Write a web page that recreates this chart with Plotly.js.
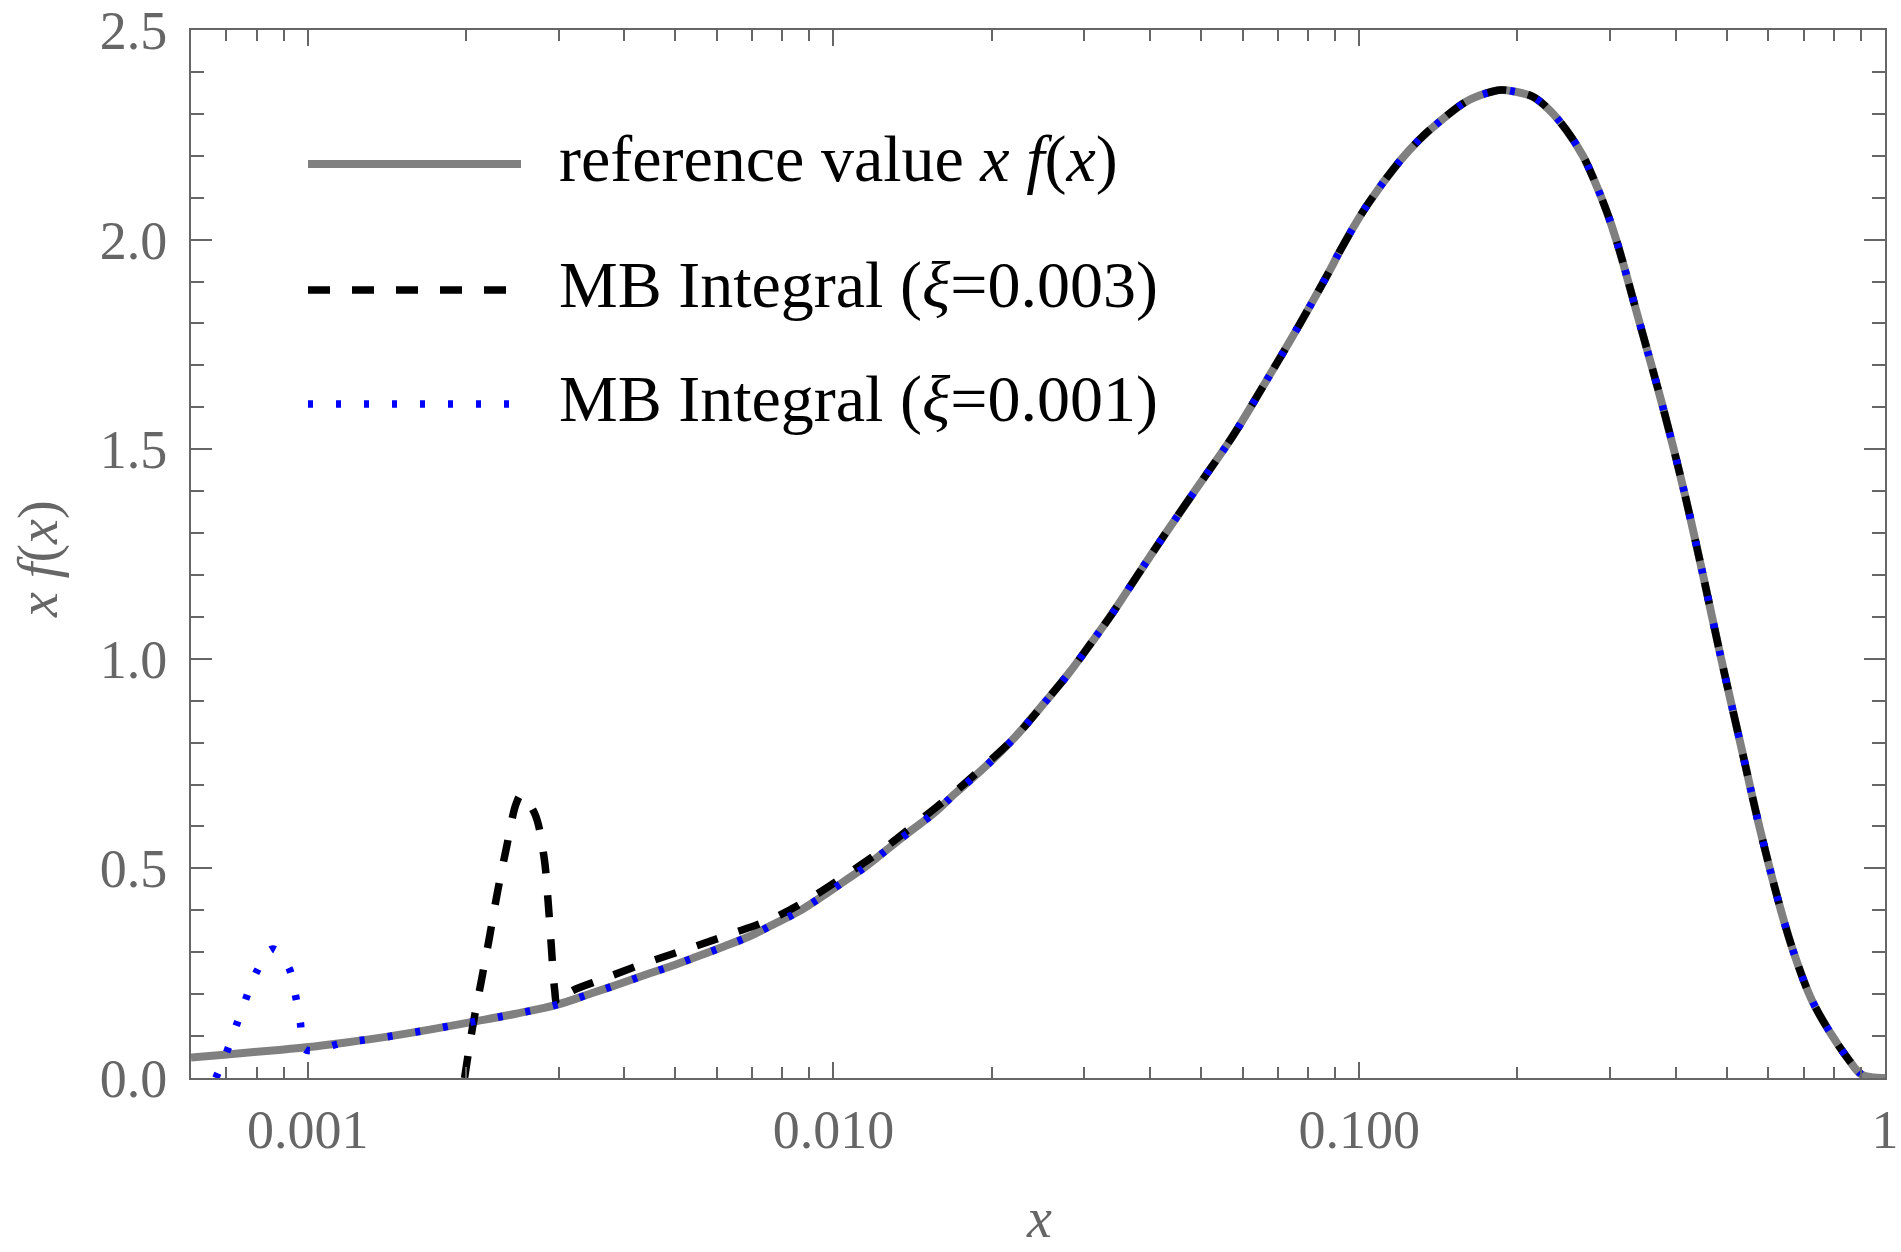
<!DOCTYPE html>
<html>
<head>
<meta charset="utf-8">
<script src="https://cdn.plot.ly/plotly-3.0.1.min.js"></script>
<style>
html,body{margin:0;padding:0;background:#fff;}
#chart{width:1901px;height:1252px;}
</style>
</head>
<body>
<div id="chart"></div>
<script>
// ---- Data ----
// reference value x f(x)
const refX = [0.0006, 0.000694, 0.000791, 0.000893, 0.000993, 0.001175, 0.00142, 0.001717, 0.00206, 0.002475,
  0.002985, 0.003467, 0.0039, 0.004378, 0.00492, 0.00549, 0.00617, 0.00689, 0.00769, 0.00858,
  0.0095, 0.01052, 0.01157, 0.01273, 0.0141, 0.0155, 0.01705, 0.01945, 0.02218, 0.0253,
  0.02803, 0.03105, 0.0339, 0.0370, 0.0398, 0.04281, 0.04956, 0.0574, 0.06642, 0.07687,
  0.089, 0.091, 0.103, 0.1192, 0.130, 0.142, 0.1596, 0.1743, 0.186, 0.1959,
  0.2138, 0.2301, 0.2475, 0.2663, 0.278, 0.295, 0.309, 0.342, 0.380, 0.4153,
  0.4512, 0.4888, 0.5314, 0.578, 0.6357, 0.6739, 0.7248, 0.785, 0.8515, 0.9,
  0.95, 1.0];
const refY = [0.049, 0.0557, 0.062, 0.0676, 0.0732, 0.0843, 0.0986, 0.116, 0.134, 0.1527,
  0.175, 0.202, 0.2235, 0.2457, 0.267, 0.289, 0.313, 0.337, 0.3665, 0.397,
  0.4325, 0.4707, 0.5065, 0.548, 0.5916, 0.631, 0.679, 0.7427, 0.814, 0.8977,
  0.9654, 1.041, 1.108, 1.180, 1.240, 1.299, 1.4146, 1.530, 1.661, 1.796,
  1.939, 1.963, 2.078, 2.186, 2.238, 2.281, 2.329, 2.349, 2.357, 2.354,
  2.341, 2.309, 2.262, 2.200, 2.150, 2.070, 1.995, 1.798, 1.590, 1.397,
  1.197, 0.996, 0.7956, 0.595, 0.3946, 0.291, 0.1876, 0.11, 0.045, 0.009,
  0.001, 0.0];

// MB Integral (xi = 0.003): low-x part where it departs from the reference
const mb3LowX = [0.001988, 0.00206, 0.002138, 0.002218, 0.002294, 0.002387, 0.002493, 0.002548, 0.002703, 0.002815,
  0.002865, 0.002906, 0.00295, 0.002985, 0.003128, 0.003673, 0.004409, 0.005293, 0.006355, 0.007628,
  0.009028, 0.01068, 0.01254, 0.01463, 0.01705, 0.01945];
const mb3LowY = [0.0, 0.1224, 0.2297, 0.337, 0.4405, 0.548, 0.655, 0.675, 0.631, 0.528,
  0.4246, 0.317, 0.21, 0.174, 0.202, 0.2378, 0.275, 0.3085, 0.3428, 0.3793,
  0.4287, 0.4883, 0.5494, 0.6155, 0.683, 0.7467];

// MB Integral (xi = 0.001): low-x part where it departs from the reference
const mb1LowX = [0.000669, 0.000704, 0.000733, 0.000764, 0.0007993, 0.0008579, 0.0009201, 0.0009474, 0.0009683, 0.0009883];
const mb1LowY = [0.0, 0.0668, 0.128, 0.1908, 0.2529, 0.3077, 0.264, 0.1988, 0.1336, 0.0684];

// Both MB curves lie on the reference curve above these x and end at mbEndX
const mb3JoinX = 0.0215;
const mb1JoinX = 0.001;
const mbEndX = 0.9;

const xTickVals = [0.001, 0.01, 0.1, 1];
const xTickText = ['0.001', '0.010', '0.100', '1'];
const xMinorVals = [0.0006, 0.0007, 0.0008, 0.0009,
  0.002, 0.003, 0.004, 0.005, 0.006, 0.007, 0.008, 0.009,
  0.02, 0.03, 0.04, 0.05, 0.06, 0.07, 0.08, 0.09,
  0.2, 0.3, 0.4, 0.5, 0.6, 0.7, 0.8, 0.9];
const yTickVals = [0, 0.5, 1.0, 1.5, 2.0, 2.5];
const yTickText = ['0.0', '0.5', '1.0', '1.5', '2.0', '2.5'];

const legendLabels = [
  'reference value <i>x f</i>(<i>x</i>)',
  'MB Integral (<i>ξ</i>=0.003)',
  'MB Integral (<i>ξ</i>=0.001)'
];

// ---- build series ----
function joinSeries(lowX, lowY, fromX) {
  const xs = lowX.slice(), ys = lowY.slice();
  for (let i = 0; i < refX.length; i++) {
    if (refX[i] >= fromX && refX[i] <= mbEndX) { xs.push(refX[i]); ys.push(refY[i]); }
  }
  return [xs, ys];
}
const [mb3X, mb3Y] = joinSeries(mb3LowX, mb3LowY, mb3JoinX);
const [mb1X, mb1Y] = joinSeries(mb1LowX, mb1LowY, mb1JoinX);

const FONT = '"Liberation Serif", "Times New Roman", Times, serif';
const AX = '#666666';
const DASH = '22px,22px';
const DOT = '5px,23px';

const traces = [
  {x: refX, y: refY, type: 'scatter', mode: 'lines', name: legendLabels[0],
   line: {color: '#808080', width: 8, shape: 'spline', smoothing: 1.0}},
  {x: mb3X, y: mb3Y, type: 'scatter', mode: 'lines', name: legendLabels[1],
   line: {color: '#000000', width: 7.5, dash: DASH, shape: 'spline', smoothing: 1.0}},
  {x: mb1X, y: mb1Y, type: 'scatter', mode: 'lines', name: legendLabels[2],
   line: {color: '#0000ff', width: 7.5, dash: DOT, shape: 'spline', smoothing: 1.0}}
];

// legend drawn in paper coordinates
const L = 191, R = 1885, T = 30, B = 1078;
const px = v => (v - L) / (R - L);
const py = v => (B - v) / (B - T);
const legY = [164, 290, 404];
const legStyles = [
  {color: '#808080', width: 8, dash: 'solid'},
  {color: '#000000', width: 7.5, dash: DASH},
  {color: '#0000ff', width: 7.5, dash: DOT}
];
const shapes = legY.map((y, i) => ({
  type: 'line', xref: 'paper', yref: 'paper',
  x0: px(308), x1: px(521), y0: py(y), y1: py(y),
  line: legStyles[i]
}));
const annotations = legY.map((y, i) => ({
  xref: 'paper', yref: 'paper', x: px(557), y: py(y - 5),
  xanchor: 'left', yanchor: 'middle', showarrow: false,
  text: legendLabels[i], font: {family: FONT, size: 66, color: '#000000'}
}));
annotations.push({
  xref: 'paper', yref: 'paper', x: px(1039), y: py(1218),
  xanchor: 'center', yanchor: 'middle', showarrow: false,
  text: '<i>x</i>', font: {family: FONT, size: 56, color: AX}
});
annotations.push({
  xref: 'paper', yref: 'paper', x: px(38), y: py(559),
  xanchor: 'center', yanchor: 'middle', showarrow: false, textangle: -90,
  text: '<i>x f</i>(<i>x</i>)', font: {family: FONT, size: 56, color: AX}
});

const layout = {
  width: 1901, height: 1252,
  margin: {l: L, r: 1901 - R, t: T, b: 1252 - B, pad: 0},
  paper_bgcolor: '#ffffff', plot_bgcolor: '#ffffff',
  showlegend: false,
  xaxis: {
    type: 'log', range: [Math.log10(0.0006), 0],
    tickmode: 'array', tickvals: xTickVals, ticktext: xTickText,
    ticks: 'inside', ticklen: 16, tickwidth: 2, tickcolor: AX,
    showline: true, linecolor: AX, linewidth: 2, mirror: 'ticks',
    showgrid: false, zeroline: false,
    tickfont: {family: FONT, size: 54, color: AX},
    ticklabelstandoff: 3,
    minor: {tickmode: 'array', tickvals: xMinorVals, ticks: 'inside', ticklen: 11, tickwidth: 2, tickcolor: AX, showgrid: false}
  },
  yaxis: {
    range: [0, 2.5],
    tickmode: 'array', tickvals: yTickVals, ticktext: yTickText,
    ticks: 'inside', ticklen: 21, tickwidth: 2, tickcolor: AX,
    showline: true, linecolor: AX, linewidth: 2, mirror: 'ticks',
    showgrid: false, zeroline: false,
    tickfont: {family: FONT, size: 54, color: AX},
    ticklabelstandoff: 11,
    minor: {tick0: 0, dtick: 0.1, ticks: 'inside', ticklen: 13, tickwidth: 2, tickcolor: AX, showgrid: false}
  },
  shapes: shapes,
  annotations: annotations
};

Plotly.newPlot('chart', traces, layout, {displayModeBar: false, staticPlot: true});
</script>
</body>
</html>
